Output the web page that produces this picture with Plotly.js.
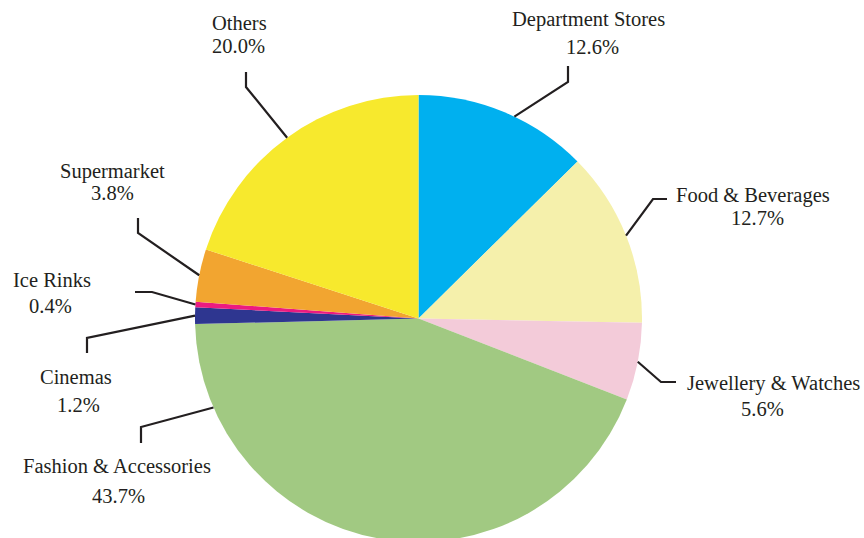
<!DOCTYPE html>
<html>
<head>
<meta charset="utf-8">
<script src="https://cdn.plot.ly/plotly-3.0.1.min.js"></script>
<style>
html, body { margin: 0; padding: 0; overflow: hidden; background: #ffffff; }
#chart { width: 864px; height: 548px; }
</style>
</head>
<body>
<div id="chart"></div>
<script>
// ---- data ----
const categories = ["Department Stores", "Food & Beverages", "Jewellery & Watches", "Fashion & Accessories", "Cinemas", "Ice Rinks", "Supermarket", "Others"];
const shares = [12.6, 12.7, 5.6, 43.7, 1.2, 0.4, 3.8, 20.0];
const sliceColors = ["#00b0ef", "#f5f0ab", "#f3cbd9", "#a1c982", "#2e3690", "#ec1b80", "#f2a530", "#f7e92d"];

// ---- layout / style (pixel positions of leader elbows, ends and label lines) ----
const W = 864, H = 548;
const cx = 418.5, cy = 318.5, R = 223.5;
const anchorFrac = [0.56, 0.5, 0.5, 0.86, 0.5, 0.5, 0.5, 0.5];
const elbows = [[568, 82], [653, 199], [661, 382], [141, 427], [87, 338], [152, 292], [138, 233], [246, 87]];
const ends   = [[568, 66], [667, 199], [676, 382], [141, 443], [87, 353], [135, 292], [138, 218], [246, 72]];
// [x center, baseline] for name line and percentage line
const nameLine = [[588.5, 27], [753, 202], [773, 390], [117, 473], [76, 384], [52, 287], [112.5, 178], [239.5, 30]];
const pctLine  = [[592.5, 54], [757, 225], [762.5, 416], [118, 503], [78, 412], [50, 313], [112, 200], [238, 53]];

const fontFamily = "Liberation Serif, Times New Roman, serif";
const fontSize = 20.5;
const textColor = "#231f20";

const px = x => x / W;
const py = y => 1 - y / H;

const total = shares.reduce((a, b) => a + b, 0);
const shapes = [];
const annotations = [];
let cum = 0;
shares.forEach((v, i) => {
  const theta = (cum + anchorFrac[i] * v) / total * 2 * Math.PI;
  cum += v;
  const ax = cx + R * Math.sin(theta);
  const ay = cy - R * Math.cos(theta);
  shapes.push({
    type: "path", xref: "paper", yref: "paper",
    path: `M ${px(ax)} ${py(ay)} L ${px(elbows[i][0])} ${py(elbows[i][1])} L ${px(ends[i][0])} ${py(ends[i][1])}`,
    line: { color: textColor, width: 2.2 }
  });
  annotations.push({
    xref: "paper", yref: "paper", x: px(nameLine[i][0]), y: py(nameLine[i][1] - 7),
    xanchor: "center", yanchor: "middle", showarrow: false, text: categories[i],
    font: { family: fontFamily, size: fontSize, color: textColor }
  });
  annotations.push({
    xref: "paper", yref: "paper", x: px(pctLine[i][0]), y: py(pctLine[i][1] - 7),
    xanchor: "center", yanchor: "middle", showarrow: false, text: v.toFixed(1) + "%",
    font: { family: fontFamily, size: fontSize, color: textColor }
  });
});

const trace = {
  type: "pie",
  labels: categories,
  values: shares,
  sort: false,
  direction: "clockwise",
  rotation: 0,
  marker: { colors: sliceColors, line: { width: 0 } },
  textinfo: "none",
  hoverinfo: "label+percent",
  domain: { x: [(cx - R) / W, (cx + R) / W], y: [1 - (cy + R) / H, 1 - (cy - R) / H] }
};

const layout = {
  width: W, height: H,
  margin: { l: 0, r: 0, t: 0, b: 0 },
  paper_bgcolor: "#ffffff",
  showlegend: false,
  font: { family: fontFamily },
  shapes: shapes,
  annotations: annotations
};

Plotly.newPlot("chart", [trace], layout, { displayModeBar: false, staticPlot: true });
</script>
</body>
</html>
